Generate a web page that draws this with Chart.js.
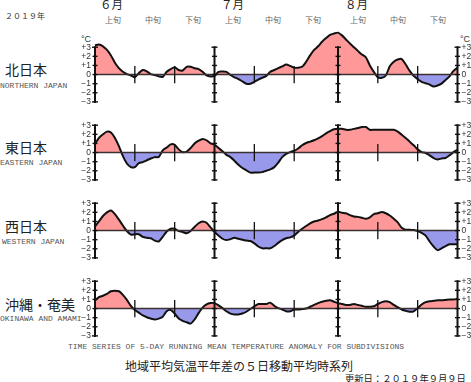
<!DOCTYPE html>
<html><head><meta charset="utf-8">
<script src="https://cdn.jsdelivr.net/npm/chart.js@4"></script>
<style>
body{margin:0;background:#fff;}
#wrap{position:relative;width:471px;height:382px;overflow:hidden;background:#fff;}
canvas{position:absolute;left:0;}
.t{position:absolute;white-space:nowrap;line-height:1;transform:translateY(-50%);}
.jp{font-family:"Noto Sans CJK JP";}
.mono{font-family:"Liberation Mono",monospace;color:#555;font-size:8px;}
.jun{font-family:"Noto Sans CJK JP";font-size:8px;color:#666;transform:translate(-50%,-50%);}
</style></head>
<body><div id="wrap">
<div class="t jp" style="left:5px;top:16px;font-size:8px;color:#333;">２０１９年</div>
<div class="t jp" style="left:100px;top:5px;font-size:11.5px;color:#222;">６月</div>
<div class="t jp" style="left:221px;top:5px;font-size:11.5px;color:#222;">７月</div>
<div class="t jp" style="left:345px;top:5px;font-size:11.5px;color:#222;">８月</div>
<div class="t jun" style="left:113px;top:20px;">上旬</div>
<div class="t jun" style="left:153px;top:20px;">中旬</div>
<div class="t jun" style="left:193px;top:20px;">下旬</div>
<div class="t jun" style="left:233px;top:20px;">上旬</div>
<div class="t jun" style="left:273px;top:20px;">中旬</div>
<div class="t jun" style="left:313px;top:20px;">下旬</div>
<div class="t jun" style="left:358px;top:20px;">上旬</div>
<div class="t jun" style="left:398px;top:20px;">中旬</div>
<div class="t jun" style="left:438px;top:20px;">下旬</div>
<div class="t" style="left:81px;top:39px;font-size:9px;color:#333;font-family:'Liberation Sans';">°C</div>
<div class="t" style="left:460px;top:39px;font-size:9px;color:#333;font-family:'Liberation Sans';">°C</div>
<div class="t jp" style="left:5px;top:69px;font-size:14px;color:#222;">北日本</div>
<div class="t mono" style="left:0px;top:86px;">NORTHERN JAPAN</div>
<div class="t jp" style="left:5px;top:147px;font-size:14px;color:#222;">東日本</div>
<div class="t mono" style="left:0px;top:163px;">EASTERN JAPAN</div>
<div class="t jp" style="left:5px;top:226px;font-size:14px;color:#222;">西日本</div>
<div class="t mono" style="left:2px;top:242px;">WESTERN JAPAN</div>
<div class="t jp" style="left:5px;top:304px;font-size:14px;color:#222;">沖縄・奄美</div>
<div class="t mono" style="left:0px;top:319px;">OKINAWA AND AMAMI</div>
<div class="t mono" style="left:68px;top:347px;">TIME SERIES OF 5-DAY RUNNING MEAN TEMPERATURE ANOMALY FOR SUBDIVISIONS</div>
<div class="t jp" style="left:125px;top:366px;font-size:12px;color:#222;">地域平均気温平年差の５日移動平均時系列</div>
<div class="t jp" style="left:345px;top:379px;font-size:9.3px;color:#222;">更新日：２０１９年９月９日</div>
<canvas id="c0" width="471" height="82" style="top:29.1px"></canvas>
<canvas id="c1" width="471" height="82" style="top:107.1px"></canvas>
<canvas id="c2" width="471" height="82" style="top:184.9px"></canvas>
<canvas id="c3" width="471" height="82" style="top:262.7px"></canvas>
</div>
<script>
// Categories: days June 1 .. August 31
const months = [[6,30],[7,31],[8,31]];
const dates = [];
for (const [m,n] of months) for (let d=1; d<=n; d++) dates.push(m+'/'+d);

// 5-day running mean temperature anomaly (°C)
const north = [
3.2,3.3,3.1,2.7,2.1,1.3,0.7,0.3,0.05,-0.1,
-0.3,0.15,0.5,0.35,0.05,-0.05,-0.2,-0.25,0.3,0.6,
0.8,0.5,0.45,0.85,0.85,0.7,0.6,0.3,-0.1,-0.2,
-0.15,0.3,0.33,0.3,-0.05,-0.3,-0.5,-0.75,-1.0,-1.0,
-0.8,-0.55,-0.35,-0.15,0.3,0.5,0.7,0.9,1.1,0.95,
0.75,0.75,0.85,1.4,2.1,2.7,3.1,3.6,4.0,4.35,
4.5,4.6,4.3,3.85,3.4,3.0,2.6,2.2,1.9,1.0,
0.3,-0.3,-0.35,-0.1,0.9,1.4,1.65,1.7,1.1,0.4,
-0.15,-0.5,-0.8,-0.95,-1.1,-1.3,-1.2,-1.0,-0.6,-0.2,
0.4,0.75];
const east = [
0.95,1.6,2.0,2.3,2.2,1.6,0.7,-0.4,-1.2,-1.6,
-1.6,-1.15,-1.05,-0.85,-0.65,-0.5,-0.5,0.25,0.55,0.9,
0.85,0.35,0.05,0.1,0.5,1.0,1.3,1.5,1.35,1.0,
0.85,0.5,0.15,-0.25,-0.5,-0.9,-1.35,-1.7,-1.95,-2.2,
-2.2,-2.2,-2.15,-2.0,-1.85,-1.6,-1.1,-0.5,-0.15,0.05,
0.2,0.45,0.8,1.05,1.2,1.35,1.55,1.8,2.1,2.35,
2.55,2.6,2.6,2.5,2.5,2.6,2.7,2.8,2.8,2.5,
2.5,2.5,2.5,2.5,2.5,2.5,2.3,1.95,1.6,1.2,
0.8,0.35,0.05,-0.05,-0.3,-0.6,-0.75,-0.65,-0.6,-0.3,
0.05,0.3];
const west = [
0.45,1.0,1.6,2.0,2.2,1.8,1.2,0.55,-0.05,-0.45,
-0.4,-0.4,-0.7,-0.8,-0.85,-1.1,-1.2,-0.7,-0.1,0.2,
0.2,-0.05,-0.15,-0.3,-0.05,0.4,0.8,1.0,0.85,0.35,
-0.15,-0.55,-0.9,-1.05,-0.95,-0.8,-0.9,-1.0,-1.1,-1.15,
-1.4,-1.75,-1.95,-1.95,-1.95,-1.7,-1.35,-1.05,-0.85,-0.75,
-0.55,-0.15,0.2,0.5,0.8,1.0,1.1,1.25,1.45,1.7,
1.85,2.05,1.95,1.9,1.7,1.55,1.5,1.4,1.3,1.45,
1.8,1.9,2.05,1.9,1.65,1.3,0.9,0.3,0.1,0.1,
0.05,-0.05,-0.25,-0.55,-1.2,-1.75,-2.15,-1.95,-1.7,-1.5,
-1.5,-1.5];
const okinawa = [
0.9,1.25,1.4,1.6,1.9,1.95,1.9,1.5,0.95,0.3,
-0.15,-0.45,-0.75,-0.95,-1.1,-1.2,-1.1,-0.9,-0.3,-0.15,
-0.55,-1.1,-1.35,-1.5,-1.65,-1.2,-0.5,0.1,0.45,0.6,
0.6,0.35,0.05,-0.3,-0.55,-0.65,-0.65,-0.55,-0.35,-0.05,
0.25,0.5,0.5,0.5,0.65,0.3,0.05,-0.1,-0.3,-0.3,
-0.1,-0.1,-0.05,0,0.2,0.4,0.6,0.75,0.85,0.9,
0.75,0.6,0.5,0.4,0.4,0.5,0.4,0.3,0.2,0.2,
0.25,0.5,0.7,0.8,0.7,0.4,0.15,-0.1,-0.25,-0.35,
-0.3,0.05,0.45,0.7,0.8,0.85,0.9,0.9,0.95,1.0,
1.0,1.05];

const series = [north, east, west, okinawa];
const axisDates = ['6/1','7/1','8/1','8/31'];
const dekadDates = ['6/11','6/21','7/11','7/21','8/11','8/21'];
const yTicks = [3,2,1,0,-1,-2,-3];
const yTickLabels = ['+3','+2','+1','0','\u22121','\u22122','\u22123'];

const axesPlugin = {
  id:'axesDeco',
  afterDatasetsDraw(chart){
    const ctx = chart.ctx, xs = chart.scales.x, ys = chart.scales.y;
    const y0 = ys.getPixelForValue(0);
    const seg = (a,b,c,d)=>{ctx.beginPath();ctx.moveTo(a,b);ctx.lineTo(c,d);ctx.stroke();};
    ctx.save();
    ctx.lineCap='butt';
    ctx.strokeStyle='#3a3030'; ctx.lineWidth=1.6;
    seg(xs.left, y0, xs.right, y0);
    ctx.strokeStyle='#111'; ctx.lineWidth=1.3;
    for (const d of dekadDates){
      const px = xs.getPixelForValue(dates.indexOf(d));
      seg(px, ys.getPixelForValue(0.95), px, ys.getPixelForValue(-0.95));
    }
    for (const d of axisDates){
      const px = xs.getPixelForValue(dates.indexOf(d));
      ctx.lineWidth=2;
      seg(px, ys.getPixelForValue(3)-1, px, ys.getPixelForValue(-3)+1);
      ctx.lineWidth=1.4;
      for (const v of yTicks){
        const py = ys.getPixelForValue(v);
        const w = (v===3||v===-3)?3:2.5;
        seg(px-w, py, px+w, py);
      }
    }
    ctx.fillStyle='#333';
    ctx.font='8.5px "Liberation Sans"';
    ctx.textBaseline='middle';
    yTicks.forEach((v,i)=>{
      const py = ys.getPixelForValue(v);
      ctx.textAlign='right';
      ctx.fillText(yTickLabels[i], xs.left-4, py);
      ctx.textAlign='left';
      ctx.fillText(yTickLabels[i], xs.right+4, py);
    });
    ctx.restore();
  }
};

series.forEach((vals, i)=>{
  new Chart(document.getElementById('c'+i), {
    type:'line',
    data:{labels:dates, datasets:[{
      data: vals,
      borderColor:'#111',
      borderWidth:2,
      pointRadius:0,
      tension:0.25,
      fill:{target:{value:0}, above:'rgb(255,153,153)', below:'rgb(153,153,235)'}
    }]},
    options:{
      responsive:false, animation:false, devicePixelRatio:1,
      layout:{padding:{left:95,right:13.5,top:0,bottom:0}},
      scales:{
        x:{type:'category', display:false, offset:false},
        y:{display:false, min:-4, max:5}
      },
      plugins:{legend:{display:false}, tooltip:{enabled:false}},
      events:[]
    },
    plugins:[axesPlugin]
  });
});
</script>
</body></html>
